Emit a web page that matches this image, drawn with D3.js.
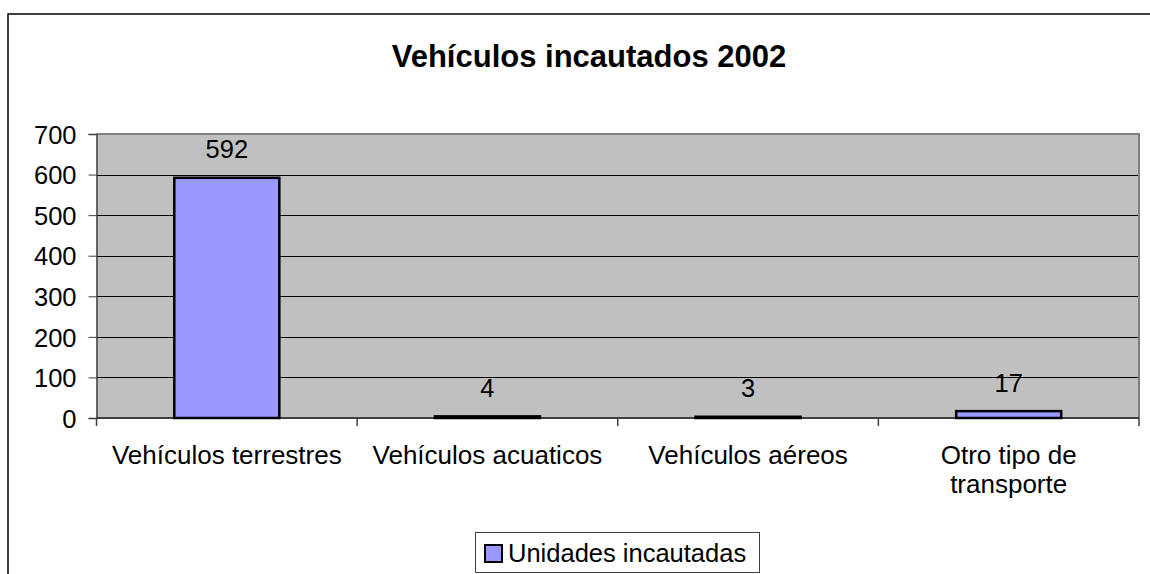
<!DOCTYPE html>
<html lang="es">
<head>
<meta charset="utf-8">
<title>Vehículos incautados 2002</title>
<script src="https://d3js.org/d3.v7.min.js"></script>
<style>
  body { margin: 0; background: #fff; }
  svg { display: block; font-family: "Liberation Sans", Arial, sans-serif; }
</style>
</head>
<body>
<svg width="1150" height="574"></svg>
<script>
// data
const title = "Vehículos incautados 2002";
const categories = ["Vehículos terrestres", "Vehículos acuaticos", "Vehículos aéreos", "Otro tipo de transporte"];
const values = [592, 4, 3, 17];
const seriesName = "Unidades incautadas";
const yTicks = [0, 100, 200, 300, 400, 500, 600, 700];

const svg = d3.select("svg");
const plot = { left: 96.5, right: 1139, top: 134, bottom: 418 };
const fontSize = 25.5;

// outer chart frame (cut off on the right and bottom)
svg.append("rect")
  .attr("x", 8).attr("y", 14)
  .attr("width", 1160).attr("height", 600)
  .attr("fill", "#fff").attr("stroke", "#000").attr("stroke-width", 1.5);

svg.append("text")
  .attr("x", 589).attr("y", 67)
  .attr("text-anchor", "middle")
  .attr("font-size", 31).attr("font-weight", "bold")
  .text(title);

const x = d3.scaleBand()
  .domain(categories)
  .range([plot.left, plot.right])
  .paddingInner(0.597).paddingOuter(0.2985);

const xBand = d3.scaleBand().domain(categories).range([plot.left, plot.right]);

const y = d3.scaleLinear().domain([0, 700]).range([plot.bottom, plot.top]);

// plot area background
svg.append("rect")
  .attr("x", plot.left).attr("y", plot.top)
  .attr("width", plot.right - plot.left).attr("height", plot.bottom - plot.top)
  .attr("fill", "#c0c0c0");

// gridlines
svg.append("g")
  .selectAll("line")
  .data(yTicks.filter(d => d > 0 && d < 700))
  .join("line")
  .attr("x1", plot.left).attr("x2", plot.right)
  .attr("y1", d => Math.round(y(d)) + 0.5).attr("y2", d => Math.round(y(d)) + 0.5)
  .attr("stroke", "#000").attr("stroke-width", 1);

// gray top and right edges of the plot area
svg.append("path")
  .attr("d", `M${plot.left},${plot.top} H${plot.right} V${plot.bottom}`)
  .attr("fill", "none").attr("stroke", "#808080").attr("stroke-width", 2);

// y axis
const yAxis = svg.append("g")
  .attr("transform", `translate(${plot.left},0)`)
  .call(d3.axisLeft(y).tickValues(yTicks).tickSize(8).tickPadding(12));
yAxis.select(".domain").attr("stroke", "#404040").attr("stroke-width", 1.5);
yAxis.selectAll(".tick line").attr("stroke", "#404040");
yAxis.selectAll(".tick text")
  .attr("font-size", fontSize).attr("font-family", "Liberation Sans, Arial, sans-serif")
  .attr("fill", "#000").attr("dy", "0.36em");

// x axis: ticks between categories
const boundaries = categories.map(c => xBand(c)).concat([plot.right]);
svg.append("line")
  .attr("x1", plot.left).attr("x2", plot.right)
  .attr("y1", plot.bottom).attr("y2", plot.bottom)
  .attr("stroke", "#404040").attr("stroke-width", 2);
svg.append("g")
  .selectAll("line")
  .data(boundaries)
  .join("line")
  .attr("x1", d => d).attr("x2", d => d)
  .attr("y1", plot.bottom).attr("y2", plot.bottom + 8)
  .attr("stroke", "#404040").attr("stroke-width", 1.5);

// bars
svg.append("g")
  .selectAll("rect")
  .data(values)
  .join("rect")
  .attr("x", (d, i) => x(categories[i]))
  .attr("y", d => y(d))
  .attr("width", x.bandwidth())
  .attr("height", d => y(0) - y(d))
  .attr("fill", "#9999ff")
  .attr("stroke", "#000").attr("stroke-width", 2.5);

// data labels
svg.append("g")
  .selectAll("text")
  .data(values)
  .join("text")
  .attr("x", (d, i) => x(categories[i]) + x.bandwidth() / 2)
  .attr("y", d => y(d) - 19.5)
  .attr("text-anchor", "middle")
  .attr("font-size", fontSize)
  .text(d => d);

// category labels, wrapped to the band width
const catG = svg.append("g");
categories.forEach(c => {
  const cx = xBand(c) + xBand.bandwidth() / 2;
  const t = catG.append("text")
    .attr("x", cx)
    .attr("y", 464)
    .attr("text-anchor", "middle")
    .attr("font-size", 26);
  const words = c.split(" ");
  let line = [];
  let tspan = t.append("tspan").attr("x", cx).attr("dy", 0);
  words.forEach(w => {
    line.push(w);
    tspan.text(line.join(" "));
    if (tspan.node().getComputedTextLength() > xBand.bandwidth() - 10 && line.length > 1) {
      line.pop();
      tspan.text(line.join(" "));
      line = [w];
      tspan = t.append("tspan").attr("x", cx).attr("dy", 29).text(w);
    }
  });
});

// legend
const legend = svg.append("g");
legend.append("rect")
  .attr("x", 475.5).attr("y", 532.5).attr("width", 284).attr("height", 40)
  .attr("fill", "#fff").attr("stroke", "#404040").attr("stroke-width", 1);
legend.append("rect")
  .attr("x", 485).attr("y", 545).attr("width", 17).attr("height", 17)
  .attr("fill", "#9999ff").attr("stroke", "#000").attr("stroke-width", 2);
legend.append("text")
  .attr("x", 508).attr("y", 562)
  .attr("font-size", fontSize)
  .text(seriesName);
</script>
</body>
</html>
